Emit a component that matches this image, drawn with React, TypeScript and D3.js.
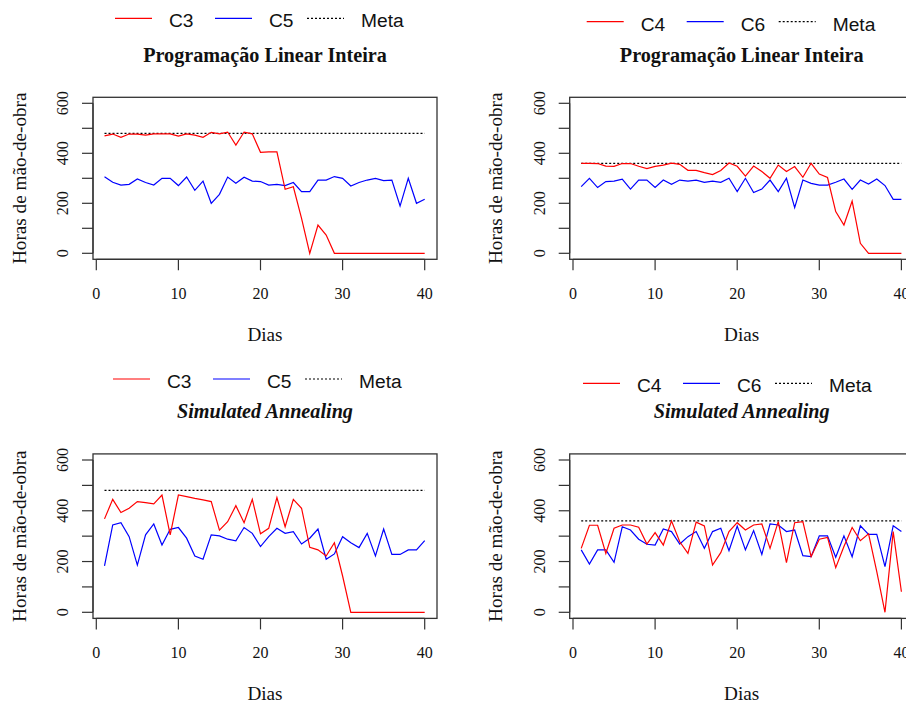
import React from 'react';
import * as d3 from 'd3';

// dias 1..40
const dias = [
  1, 2, 3, 4, 5, 6, 7, 8, 9, 10, 11, 12, 13, 14, 15, 16, 17, 18, 19, 20,
  21, 22, 23, 24, 25, 26, 27, 28, 29, 30, 31, 32, 33, 34, 35, 36, 37, 38, 39, 40,
];
const xTicks = [0, 10, 20, 30, 40];
const yTicks = [0, 100, 200, 300, 400, 500, 600];
const yLabels = [0, 200, 400, 600];

// Programação Linear Inteira
const plC3 = [
  470, 477, 464, 477, 477, 473, 478, 478, 478, 469, 478, 473, 464, 484, 478, 485, 433, 485, 478, 404,
  406, 406, 256, 266, 140, 0, 113, 73, 0, 0, 0, 0, 0, 0, 0, 0, 0, 0, 0, 0,
];
const plC5 = [
  306, 284, 273, 276, 297, 283, 273, 300, 300, 271, 305, 252, 289, 200, 236, 305, 280, 304, 289, 287,
  273, 276, 271, 283, 247, 247, 293, 293, 307, 300, 269, 283, 293, 300, 291, 293, 189, 300, 200, 216,
];
const plC4 = [
  360, 360, 359, 349, 348, 359, 359, 348, 339, 348, 353, 361, 356, 332, 332, 323, 315, 331, 361, 348,
  309, 349, 327, 300, 353, 327, 347, 304, 360, 317, 303, 167, 113, 209, 40, 0, 0, 0, 0, 0,
];
const plC6 = [
  267, 300, 263, 287, 289, 297, 257, 293, 293, 263, 293, 276, 293, 289, 293, 284, 289, 284, 300, 247,
  300, 243, 257, 293, 247, 300, 183, 293, 280, 273, 273, 284, 297, 256, 293, 277, 297, 271, 216, 216,
];

// Simulated Annealing
const saC3 = [
  368, 445, 393, 410, 436, 432, 427, 462, 305, 462, 456, 449, 443, 436, 324, 357, 420, 353, 445, 309,
  331, 452, 337, 445, 410, 256, 246, 222, 274, 143, 0, 0, 0, 0, 0, 0, 0, 0, 0, 0,
];
const saC5 = [
  183, 344, 353, 298, 186, 305, 348, 265, 327, 334, 292, 222, 209, 305, 301, 288, 282, 334, 311, 259,
  298, 331, 311, 318, 269, 292, 328, 209, 230, 298, 274, 255, 311, 222, 328, 228, 228, 246, 246, 282,
];
const saC4 = [
  252, 343, 343, 232, 331, 344, 344, 335, 269, 314, 265, 360, 278, 232, 355, 340, 186, 235, 318, 353,
  324, 344, 348, 252, 357, 196, 353, 357, 219, 288, 295, 176, 259, 334, 282, 309, 160, 0, 318, 81,
];
const saC6 = [
  246, 190, 246, 246, 197, 337, 324, 288, 268, 265, 328, 318, 269, 298, 318, 252, 318, 331, 243, 340,
  246, 322, 228, 348, 344, 318, 324, 223, 219, 301, 301, 217, 301, 219, 341, 307, 307, 180, 341, 318,
];

const metaC3 = 480;
const metaC4 = 360;

const titles = ['Programação Linear Inteira', 'Simulated Annealing'];

const SERIF = '"Liberation Serif", "Times New Roman", serif';
const SANS = '"Liberation Sans", Arial, sans-serif';

const panels = [
  { title: titles[0], italic: false, col: 0, row: 0, names: ['C3', 'C5'], red: plC3, blue: plC5, meta: metaC3, legX: 115, legY: 27.3 },
  { title: titles[0], italic: false, col: 1, row: 0, names: ['C4', 'C6'], red: plC4, blue: plC6, meta: metaC4, legX: 586.7, legY: 30.7 },
  { title: titles[1], italic: true, col: 0, row: 1, names: ['C3', 'C5'], red: saC3, blue: saC5, meta: metaC3, legX: 113, legY: 388 },
  { title: titles[1], italic: true, col: 1, row: 1, names: ['C4', 'C6'], red: saC4, blue: saC6, meta: metaC4, legX: 583, legY: 392.3 },
];

const colX = [0, 476.7];
const rowY = [
  { y0: 253.3, y600: 103.3 },
  { y0: 612.3, y600: 460 },
];

function Panel({ p }) {
  const dx = colX[p.col];
  const x = d3.scaleLinear().domain([0, 40]).range([96.3 + dx, 424.7 + dx]);
  const r = rowY[p.row];
  const y = d3.scaleLinear().domain([0, 600]).range([r.y0, r.y600]);
  const left = 93 + dx;
  const right = 437 + dx;
  const top = y(624);
  const bottom = y(-24);
  const midX = (left + right) / 2;
  const midY = (top + bottom) / 2;

  const line = d3
    .line<number>()
    .x((_, i) => x(dias[i]))
    .y((v) => y(v));

  const legendItems = [
    { label: p.names[0], color: 'red', dash: null, off: 0 },
    { label: p.names[1], color: 'blue', dash: null, off: 100 },
    { label: 'Meta', color: 'black', dash: '2,2', off: 192 },
  ];

  return (
    <g>
      {/* legend */}
      {legendItems.map((it) => (
        <g key={it.label}>
          <line
            x1={p.legX + it.off}
            x2={p.legX + it.off + 37}
            y1={p.legY - 9}
            y2={p.legY - 9}
            stroke={it.color}
            strokeWidth={1.2}
            strokeDasharray={it.dash || undefined}
          />
          <text x={p.legX + it.off + 54} y={p.legY} fontFamily={SANS} fontSize={19.2} fill="#111">
            {it.label}
          </text>
        </g>
      ))}

      <text
        x={midX}
        y={top - 35.6}
        textAnchor="middle"
        fontFamily={SERIF}
        fontWeight="bold"
        fontStyle={p.italic ? 'italic' : 'normal'}
        fontSize={20.2}
        fill="#111"
      >
        {p.title}
      </text>

      {/* data */}
      <path
        d={line(Array(dias.length).fill(p.meta)) || ''}
        fill="none"
        stroke="black"
        strokeWidth={1.2}
        strokeDasharray="2,2"
      />
      <path d={line(p.blue) || ''} fill="none" stroke="blue" strokeWidth={1.2} />
      <path d={line(p.red) || ''} fill="none" stroke="red" strokeWidth={1.2} />

      {/* box */}
      <rect x={left} y={top} width={right - left} height={bottom - top} fill="none" stroke="#333" strokeWidth={1.3} />

      {/* x axis */}
      <line x1={x(0)} x2={x(40)} y1={bottom} y2={bottom} stroke="#333" strokeWidth={1.2} />
      {xTicks.map((t) => (
        <g key={t}>
          <line x1={x(t)} x2={x(t)} y1={bottom} y2={bottom + 11} stroke="#333" strokeWidth={1.2} />
          <text x={x(t)} y={bottom + 40} textAnchor="middle" fontFamily={SERIF} fontSize={16} fill="#111">
            {t}
          </text>
        </g>
      ))}
      <text x={midX} y={bottom + 81.4} textAnchor="middle" fontFamily={SERIF} fontSize={19.2} fill="#111">
        Dias
      </text>

      {/* y axis */}
      <line x1={left} x2={left} y1={y(0)} y2={y(600)} stroke="#333" strokeWidth={1.2} />
      {yTicks.map((t) => (
        <line key={t} x1={left - 11} x2={left} y1={y(t)} y2={y(t)} stroke="#333" strokeWidth={1.2} />
      ))}
      {yLabels.map((t) => (
        <text
          key={t}
          transform={`translate(${left - 25},${y(t)}) rotate(-90)`}
          textAnchor="middle"
          fontFamily={SERIF}
          fontSize={16}
          fill="#111"
        >
          {t}
        </text>
      ))}
      <text
        transform={`translate(${left - 67.5},${midY}) rotate(-90)`}
        textAnchor="middle"
        fontFamily={SERIF}
        fontSize={19.2}
        fill="#111"
      >
        Horas de mão-de-obra
      </text>
    </g>
  );
}

export default function App() {
  return (
    <svg
      width={906}
      height={703}
      style={{ position: 'absolute', left: 0, top: 0, background: 'white' }}
    >
      <rect width={906} height={703} fill="white" />
      {panels.map((p, i) => (
        <Panel key={i} p={p} />
      ))}
    </svg>
  );
}
